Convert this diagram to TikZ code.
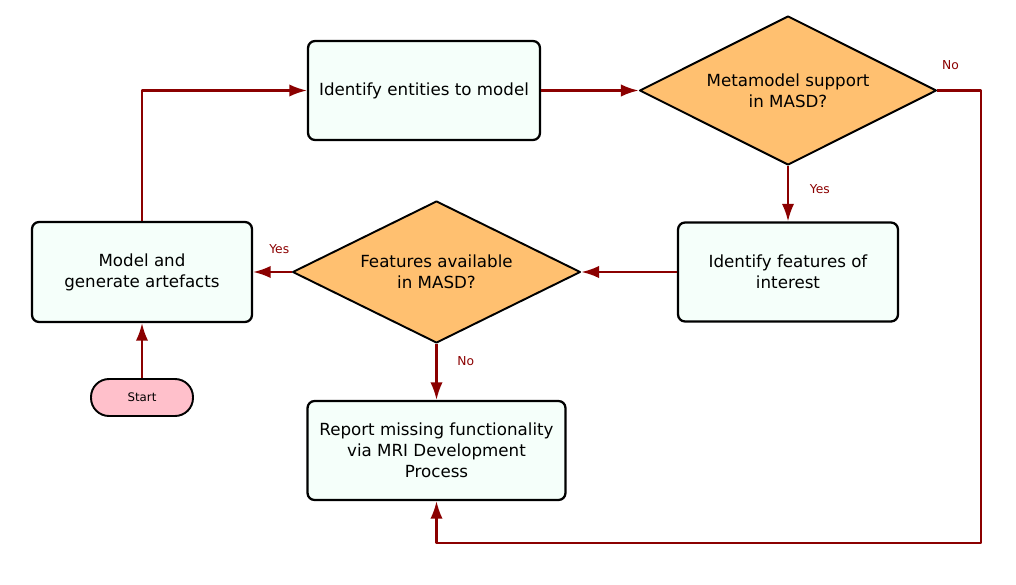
\documentclass[tikz,border=0pt]{standalone}
\usepackage{fontspec}
\setmainfont{DejaVu Sans}
\usetikzlibrary{shapes.geometric,arrows.meta}
\definecolor{boxfill}{RGB}{245,255,250}
\definecolor{decfill}{RGB}{255,192,112}
\definecolor{startfill}{RGB}{255,192,203}
\definecolor{flowred}{RGB}{139,0,0}

\begin{document}
\begin{tikzpicture}[x=0.02cm,y=-0.02cm,line join=round]
	\tikzstyle{box}=[draw,line width=1.3pt,rounded corners=4pt,fill=boxfill,align=center,
		font=\fontsize{9.5}{11.9}\selectfont,minimum height=1.98cm];
	\tikzstyle{decision}=[draw,diamond,aspect=2,line width=1.1pt,fill=decfill,align=center,
		inner sep=0pt,font=\fontsize{9.5}{11.9}\selectfont];
	\tikzstyle{terminal}=[draw,line width=1.1pt,rounded corners=0.36cm,fill=startfill,
		font=\fontsize{6.7}{8}\selectfont,minimum width=2.04cm,minimum height=0.74cm];
	\tikzstyle{flow}=[draw=flowred,line width=1.2pt,-{Latex[length=10pt,width=7pt]}];
	\tikzstyle{lbl}=[text=flowred,font=\fontsize{7}{8}\selectfont];

	\useasboundingbox (0,0) rectangle (1016,584);

	\node[box,minimum width=4.64cm] (ident) at (424,90.5) {Identify entities to model};
	\node[decision,minimum width=5.94cm,minimum height=2.98cm] (meta) at (788,90.5)
		{Metamodel support\\in MASD?};
	\node[box,minimum width=4.4cm] (feat) at (788,272) {Identify features of\\interest};
	\node[decision,minimum width=5.76cm,minimum height=2.84cm] (avail) at (436.5,272)
		{Features available\\in MASD?};
	\node[box,minimum width=4.4cm,minimum height=2cm] (model) at (142,272)
		{Model and\\generate artefacts};
	\node[terminal] (start) at (142,397.5) {Start};
	\node[box,minimum width=5.16cm] (report) at (436.5,450.5)
		{Report missing functionality\\via MRI Development\\Process};
	\coordinate (corner) at (981,543);

	\draw[flow] (start) -- (model);
	\draw[flow] (model.north) |- (ident.west);
	\draw[flow] (ident) -- (meta);
	\draw[flow] (meta) -- node[lbl,pos=0.42,right=0.3cm]{Yes} (feat);
	\draw[flow] (feat) -- (avail);
	\draw[flow] (avail) -- node[lbl,pos=0.32,above=0.22cm]{Yes} (model);
	\draw[flow] (avail) -- node[lbl,pos=0.31,right=0.28cm]{No} (report);
	\draw[flow] (meta.east) -| node[lbl,pos=0.15,above=0.28cm]{No} (corner) -| (report.south);
\end{tikzpicture}
\end{document}
